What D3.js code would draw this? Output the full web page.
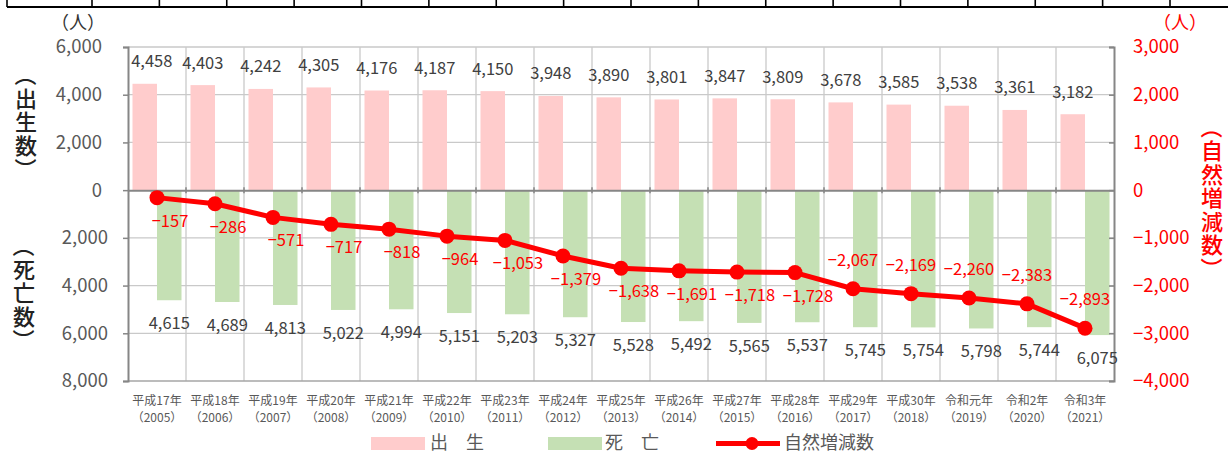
<!DOCTYPE html>
<html><head><meta charset="utf-8">
<script src="https://cdn.jsdelivr.net/npm/d3@7"></script>
<style>
html,body{margin:0;padding:0;background:#fff;}
svg{display:block;font-family:"Noto Sans CJK JP","Noto Sans",sans-serif;}
</style></head>
<body>
<svg id="chart" width="1228" height="453"></svg>
<script>
const categories = ["平成17年","平成18年","平成19年","平成20年","平成21年","平成22年","平成23年","平成24年","平成25年","平成26年","平成27年","平成28年","平成29年","平成30年","令和元年","令和2年","令和3年"];
const years = ["2005","2006","2007","2008","2009","2010","2011","2012","2013","2014","2015","2016","2017","2018","2019","2020","2021"];
const births = [4458,4403,4242,4305,4176,4187,4150,3948,3890,3801,3847,3809,3678,3585,3538,3361,3182];
const deaths = [4615,4689,4813,5022,4994,5151,5203,5327,5528,5492,5565,5537,5745,5754,5798,5744,6075];
const natural = [-157,-286,-571,-717,-818,-964,-1053,-1379,-1638,-1691,-1718,-1728,-2067,-2169,-2260,-2383,-2893];
const leftTicks = [6000,4000,2000,0,-2000,-4000,-6000,-8000];
const rightTicks = [3000,2000,1000,0,-1000,-2000,-3000,-4000];
const legendLabels = ["出　生","死　亡","自然増減数"];

const svg = d3.select("#chart");
const L = 128, R = 1114, T = 47, B = 381;
const x = d3.scaleBand().domain(categories).range([L, R]).padding(0);
const yL = d3.scaleLinear().domain([-8000, 6000]).range([B, T]);
const yR = d3.scaleLinear().domain([-4000, 3000]).range([B, T]);
const bw = 24.5;
const fmt = d3.format(",");
const PINK = "#ffcccc", GREEN = "#c5e0b4", RED = "#ff0000", GRID = "#c9c9c9", AX = "#868686", TXT = "#595959";

// top decoration (table edge)
const deco = svg.append("g");
deco.append("line").attr("x1", 7).attr("x2", 1228).attr("y1", 7).attr("y2", 7).attr("stroke", "#000").attr("stroke-width", 2);
const decoX = [7].concat(d3.range(17).map(k => 92 + k * 67.375));
deco.selectAll("line.v").data(decoX).join("line").attr("class", "v")
  .attr("x1", d => d).attr("x2", d => d).attr("y1", 0).attr("y2", 7)
  .attr("stroke", "#000").attr("stroke-width", 1.6);

// gridlines
const grid = svg.append("g");
grid.selectAll("line.h").data(leftTicks.filter(d => d !== 0 && d !== -8000)).join("line").attr("class", "h")
  .attr("x1", L).attr("x2", R).attr("y1", d => yL(d)).attr("y2", d => yL(d))
  .attr("stroke", GRID).attr("stroke-width", 1.3);
grid.selectAll("line.v").data(categories.slice(1)).join("line").attr("class", "v")
  .attr("x1", d => x(d)).attr("x2", d => x(d)).attr("y1", T).attr("y2", B)
  .attr("stroke", GRID).attr("stroke-width", 1.3);
grid.append("line").attr("x1", L).attr("x2", R).attr("y1", B).attr("y2", B).attr("stroke", "#a6a6a6").attr("stroke-width", 1.5);

// bars
svg.append("g").selectAll("rect").data(births).join("rect")
  .attr("x", (d, i) => x(categories[i]) + x.bandwidth() / 2 - bw)
  .attr("width", bw)
  .attr("y", d => yL(d)).attr("height", d => yL(0) - yL(d))
  .attr("fill", PINK);
svg.append("g").selectAll("rect").data(deaths).join("rect")
  .attr("x", (d, i) => x(categories[i]) + x.bandwidth() / 2)
  .attr("width", bw)
  .attr("y", yL(0)).attr("height", d => yL(-d) - yL(0))
  .attr("fill", GREEN);

// axes
const axL = svg.append("g").attr("transform", `translate(${L},0)`)
  .call(d3.axisLeft(yL).tickValues(leftTicks).tickSize(5).tickPadding(21).tickFormat(d => fmt(Math.abs(d))));
axL.select(".domain").attr("stroke", AX).attr("stroke-width", 2);
axL.selectAll(".tick line").attr("stroke", AX).attr("stroke-width", 1.5);
axL.selectAll(".tick text").attr("fill", TXT).attr("font-size", 18.5)
  .attr("font-family", "'Noto Sans CJK JP',sans-serif")
  .attr("x", d => d < 0 ? -20 : -26);

const axR = svg.append("g").attr("transform", `translate(${R},0)`)
  .call(d3.axisRight(yR).tickValues(rightTicks).tickSize(-5).tickPadding(19).tickFormat(fmt));
axR.select(".domain").attr("stroke", AX).attr("stroke-width", 2);
axR.selectAll(".tick line").attr("stroke", AX).attr("stroke-width", 1.5);
axR.selectAll(".tick text").attr("fill", RED).attr("font-size", 18.5)
  .attr("font-family", "'Noto Sans CJK JP',sans-serif");

// zero axis
const axX = svg.append("g").attr("transform", `translate(0,${yL(0)})`)
  .call(d3.axisBottom(x).tickSize(0).tickFormat(""));
axX.select(".domain").attr("stroke", AX).attr("stroke-width", 2);
svg.append("g").selectAll("line").data(categories.slice(1)).join("line")
  .attr("x1", d => x(d)).attr("x2", d => x(d)).attr("y1", yL(0) - 3).attr("y2", yL(0) + 3)
  .attr("stroke", AX).attr("stroke-width", 1.5);

// category labels
const cl = svg.append("g").attr("fill", TXT).attr("font-size", 12).attr("text-anchor", "middle");
cl.selectAll("text.c1").data(categories).join("text").attr("class", "c1")
  .attr("x", d => x(d) + x.bandwidth() / 2).attr("y", 399).attr("dominant-baseline", "central").text(d => d);
cl.selectAll("text.c2").data(years).join("text").attr("class", "c2")
  .attr("x", (d, i) => x(categories[i]) + x.bandwidth() / 2).attr("y", 416).attr("dominant-baseline", "central").text(d => "（" + d + "）");

// bar labels
const bl = svg.append("g").attr("fill", "#404040").attr("font-size", 16.5).attr("text-anchor", "middle").attr("dominant-baseline", "central");
bl.selectAll("text.b").data(births).join("text").attr("class", "b")
  .attr("x", (d, i) => x(categories[i]) + x.bandwidth() / 2 - bw / 2 + (i === 0 ? 7 : 0))
  .attr("y", d => yL(d) - 23.5).text(d => fmt(d));
bl.selectAll("text.d").data(deaths).join("text").attr("class", "d")
  .attr("x", (d, i) => x(categories[i]) + x.bandwidth() / 2 + bw / 2)
  .attr("y", d => yL(-d) + 22).text(d => fmt(d));

// natural increase line
const cx = i => x(categories[i]) + x.bandwidth() / 2;
const line = d3.line().x((d, i) => cx(i)).y(d => yR(d));
svg.append("path").datum(natural).attr("d", line).attr("fill", "none").attr("stroke", RED).attr("stroke-width", 5).attr("stroke-linejoin", "round");
svg.append("g").selectAll("circle").data(natural).join("circle")
  .attr("cx", (d, i) => cx(i)).attr("cy", d => yR(d)).attr("r", 7.5).attr("fill", RED);
svg.append("g").attr("fill", RED).attr("font-size", 16.5).attr("text-anchor", "middle").attr("dominant-baseline", "central")
  .selectAll("text").data(natural).join("text")
  .attr("x", (d, i) => i >= 12 ? cx(i) : cx(i) + 13)
  .attr("y", (d, i) => i >= 12 ? yR(d) - 30 : yR(d) + 22)
  .text(d => fmt(d));

// unit labels
svg.append("text").attr("x", 78).attr("y", 21).attr("font-size", 18).attr("fill", "#333").attr("text-anchor", "middle").attr("dominant-baseline", "central").text("（人）");
svg.append("text").attr("x", 1180).attr("y", 21).attr("font-size", 18).attr("fill", RED).attr("text-anchor", "middle").attr("dominant-baseline", "central").text("（人）");

// vertical axis titles: one text element, glyphs stacked; brackets turned 90° for vertical setting
// glyph em-box centre sits 0.5em right of and 0.38em above the alphabetic origin
function vtitle(txt, xc, ymid, color) {
  const fs = 22, pitch = 23.5, hx = fs * 0.5, hy = fs * 0.38;
  const chars = Array.from(txt);
  const y0 = ymid - (chars.length - 1) / 2 * pitch;
  const isBr = c => c === "（" || c === "）";
  const xs = chars.map((c, i) => isBr(c) ? xc - hy : xc - hx);
  const ys = chars.map((c, i) => isBr(c) ? y0 + i * pitch - hx : y0 + i * pitch + hy);
  const rs = chars.map(c => isBr(c) ? 90 : 0);
  svg.append("text")
    .attr("x", xs.join(" ")).attr("y", ys.join(" ")).attr("rotate", rs.join(" "))
    .attr("font-size", fs).attr("font-weight", 500).attr("fill", color)
    .text(txt);
}
vtitle("（出生数）", 26, 122, "#222");
vtitle("（死亡数）", 24, 293, "#222");
vtitle("（自然増減数）", 1212, 198, RED);

// legend
const lg = svg.append("g");
lg.append("rect").attr("x", 371).attr("y", 437).attr("width", 54).attr("height", 13).attr("fill", PINK);
lg.append("rect").attr("x", 548).attr("y", 437).attr("width", 54).attr("height", 13).attr("fill", GREEN);
lg.append("line").attr("x1", 716).attr("x2", 780).attr("y1", 443.5).attr("y2", 443.5).attr("stroke", RED).attr("stroke-width", 5);
lg.append("circle").attr("cx", 752).attr("cy", 443.5).attr("r", 6.5).attr("fill", RED);
const lx = [430, 605, 784];
lg.selectAll("text").data(legendLabels).join("text")
  .attr("x", (d, i) => lx[i]).attr("y", 440.5).attr("dominant-baseline", "central")
  .attr("font-size", 18).attr("fill", TXT).text(d => d);
</script>
</body></html>
